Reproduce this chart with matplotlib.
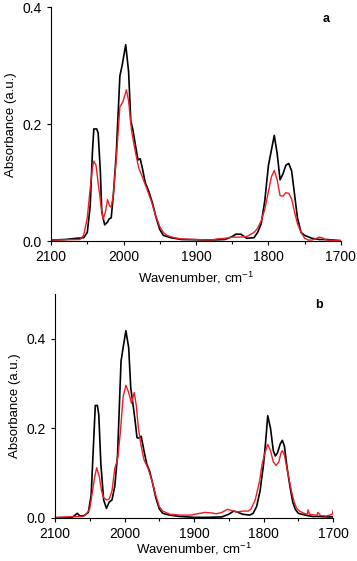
import matplotlib
matplotlib.use('Agg')
import matplotlib.pyplot as plt
from matplotlib.ticker import MultipleLocator

plt.rcParams['font.family'] = ['Liberation Sans', 'DejaVu Sans']
plt.rcParams['mathtext.fontset'] = 'custom'
plt.rcParams['mathtext.rm'] = 'Liberation Sans'

# panel a
wa_black = [2100, 2080, 2065, 2055, 2050, 2046, 2043, 2041, 2037, 2035, 2032, 2030, 2026, 2022, 2020,
            2017, 2014, 2010, 2005, 2002, 1997, 1993, 1990, 1987, 1983, 1980, 1977, 1974, 1970, 1965,
            1960, 1955, 1950, 1945, 1935, 1920, 1880, 1860, 1850, 1845, 1838, 1830, 1820, 1815, 1810,
            1805, 1800, 1792, 1788, 1784, 1780, 1776, 1772, 1768, 1764, 1760, 1755, 1750, 1740, 1730,
            1720, 1700]
a_black = [0.002, 0.003, 0.005, 0.006, 0.015, 0.06, 0.15, 0.192, 0.192, 0.185, 0.12, 0.05, 0.028, 0.033, 0.038,
           0.04, 0.08, 0.15, 0.283, 0.30, 0.336, 0.29, 0.206, 0.19, 0.16, 0.139, 0.141, 0.125, 0.10, 0.085,
           0.065, 0.04, 0.02, 0.01, 0.006, 0.003, 0.002, 0.003, 0.008, 0.012, 0.012, 0.005, 0.006, 0.015, 0.03,
           0.07, 0.13, 0.181, 0.15, 0.105, 0.115, 0.13, 0.133, 0.12, 0.08, 0.04, 0.015, 0.01, 0.005, 0.003,
           0.003, 0.001]
wa_red = [2100, 2060, 2055, 2050, 2046, 2043, 2041, 2038, 2035, 2031, 2028, 2025, 2022, 2019, 2017,
          2014, 2010, 2005, 2001, 1996, 1993, 1989, 1984, 1979, 1974, 1968, 1962, 1956, 1950, 1945,
          1940, 1930, 1920, 1880, 1870, 1860, 1850, 1840, 1830, 1820, 1815, 1810, 1805, 1800, 1796,
          1792, 1788, 1784, 1780, 1776, 1772, 1768, 1764, 1760, 1755, 1750, 1745, 1740, 1730, 1726,
          1720, 1700]
a_red = [0.002, 0.003, 0.01, 0.04, 0.09, 0.125, 0.137, 0.13, 0.10, 0.06, 0.038, 0.05, 0.071, 0.06, 0.058,
         0.08, 0.14, 0.23, 0.238, 0.259, 0.24, 0.19, 0.155, 0.125, 0.11, 0.09, 0.07, 0.045, 0.025, 0.015,
         0.01, 0.006, 0.004, 0.002, 0.004, 0.005, 0.007, 0.007, 0.008, 0.015, 0.022, 0.035, 0.055, 0.085, 0.11,
         0.121, 0.105, 0.078, 0.077, 0.083, 0.082, 0.072, 0.05, 0.03, 0.015, 0.005, 0.002, 0.002, 0.007, 0.006,
         0.002, 0.001]

# panel b
wb_black = [2100, 2075, 2068, 2064, 2058, 2052, 2048, 2045, 2042, 2039, 2037, 2034, 2030, 2026, 2022,
            2018, 2014, 2010, 2005, 2002, 1998, 1994, 1991, 1988, 1985, 1982, 1979, 1976, 1972, 1968,
            1964, 1960, 1955, 1950, 1945, 1935, 1920, 1900, 1880, 1860, 1850, 1843, 1838, 1830, 1820,
            1815, 1810, 1805, 1800, 1797, 1794, 1790, 1786, 1783, 1780, 1776, 1773, 1770, 1766, 1762,
            1758, 1754, 1750, 1740, 1730, 1720, 1710, 1700]
b_black = [0.0, 0.001, 0.01, 0.004, 0.005, 0.012, 0.05, 0.15, 0.251, 0.251, 0.23, 0.12, 0.04, 0.021, 0.035,
           0.04, 0.07, 0.14, 0.35, 0.38, 0.418, 0.38, 0.29, 0.256, 0.22, 0.179, 0.178, 0.182, 0.15, 0.12,
           0.105, 0.08, 0.045, 0.02, 0.01, 0.006, 0.003, 0.001, 0.001, 0.002, 0.008, 0.015, 0.013, 0.008, 0.006,
           0.01, 0.025, 0.06, 0.12, 0.17, 0.228, 0.2, 0.15, 0.138, 0.145, 0.165, 0.173, 0.16, 0.11, 0.07,
           0.035, 0.018, 0.01, 0.006, 0.003, 0.003, 0.002, 0.002]
wb_red = [2100, 2060, 2055, 2050, 2046, 2043, 2040, 2036, 2033, 2030, 2026, 2022, 2018, 2014, 2010,
          2006, 2002, 1998, 1994, 1990, 1986, 1983, 1980, 1976, 1972, 1966, 1960, 1955, 1950, 1945,
          1935, 1920, 1905, 1895, 1885, 1875, 1868, 1860, 1852, 1845, 1838, 1830, 1822, 1818, 1812,
          1806, 1802, 1798, 1794, 1790, 1786, 1782, 1778, 1775, 1773, 1770, 1765, 1760, 1756, 1752,
          1748, 1742, 1737, 1736, 1734, 1726, 1723, 1722, 1718, 1710, 1705, 1701, 1700]
b_red = [0.001, 0.003, 0.008, 0.02, 0.06, 0.09, 0.112, 0.09, 0.06, 0.045, 0.04, 0.042, 0.06, 0.11, 0.13,
         0.19, 0.27, 0.296, 0.28, 0.256, 0.28, 0.25, 0.2, 0.16, 0.13, 0.11, 0.08, 0.05, 0.025, 0.015,
         0.008, 0.006, 0.006, 0.009, 0.012, 0.011, 0.009, 0.012, 0.019, 0.016, 0.013, 0.015, 0.015, 0.02, 0.04,
         0.08, 0.12, 0.145, 0.164, 0.15, 0.125, 0.117, 0.125, 0.145, 0.15, 0.14, 0.1, 0.06, 0.035, 0.02,
         0.015, 0.01, 0.008, 0.018, 0.008, 0.006, 0.006, 0.012, 0.005, 0.004, 0.006, 0.008, 0.016]

fig = plt.figure(figsize=(3.57, 5.61), dpi=100)
ax1 = fig.add_axes([0.143, 0.570, 0.812, 0.417])
ax2 = fig.add_axes([0.154, 0.077, 0.779, 0.399])

panels = [(ax1, wa_black, a_black, wa_red, a_red, 0.4, 'a', 4),
          (ax2, wb_black, b_black, wb_red, b_red, 0.5, 'b', 0)]

for ax, wk, yk, wr, yr, ytop, lab, pad in panels:
    ax.plot(wk, yk, color='black', lw=1.2)
    ax.plot(wr, yr, color='#ee1c24', lw=1.0)
    ax.set_xlim(2100, 1700)
    ax.set_ylim(0, ytop)
    ax.xaxis.set_major_locator(MultipleLocator(100))
    ax.xaxis.set_minor_locator(MultipleLocator(50))
    ax.yaxis.set_major_locator(MultipleLocator(0.2))
    ax.yaxis.set_major_formatter(matplotlib.ticker.FormatStrFormatter('%.1f'))
    ax.spines['top'].set_visible(False)
    ax.spines['right'].set_visible(False)
    ax.tick_params(direction='out', labelsize=10, length=3, width=0.8)
    ax.tick_params(which='minor', direction='out', length=2, width=0.8)
    ax.set_xlabel('Wavenumber, cm$^{\\mathrm{-1}}$', fontsize=9.5, labelpad=pad)
    ax.set_ylabel('Absorbance (a.u.)', fontsize=9.5)
    ax.text(0.95, 0.95, lab, transform=ax.transAxes, fontsize=9, fontweight='bold',
            ha='center', va='center')

plt.savefig('out.png', dpi=100)
